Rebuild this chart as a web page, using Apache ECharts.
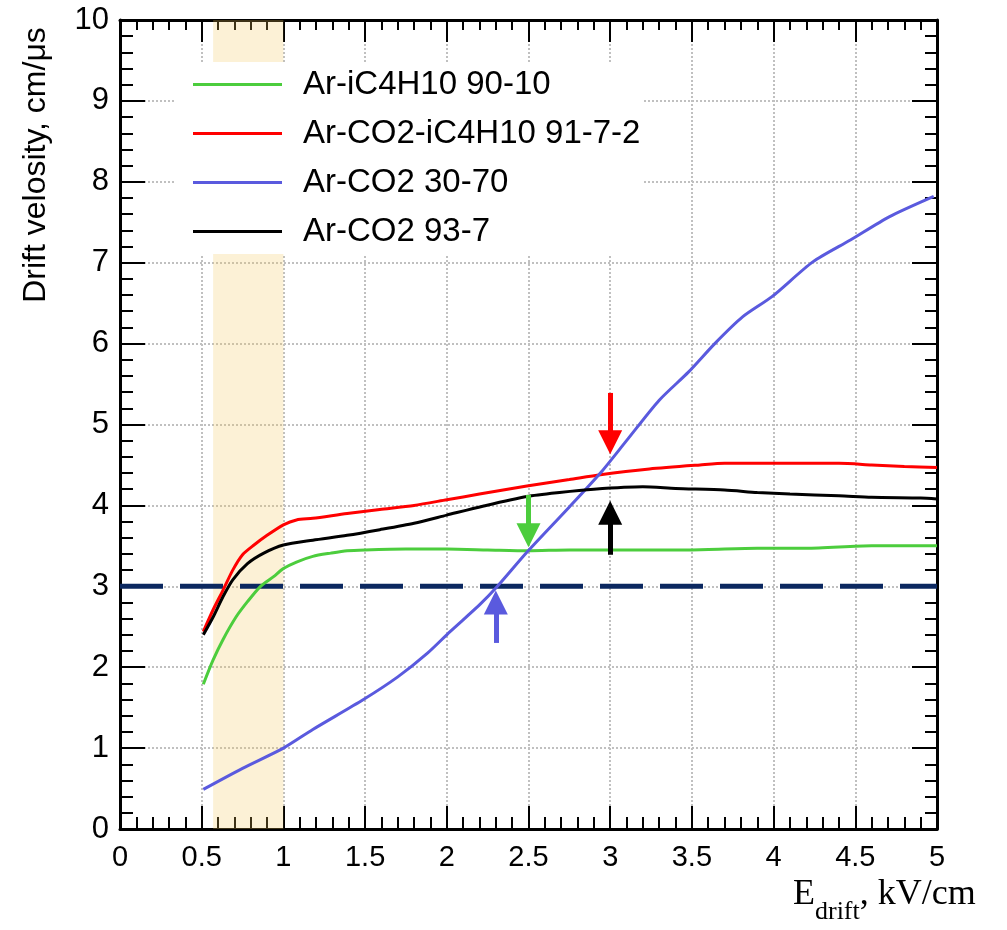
<!DOCTYPE html>
<html>
<head>
<meta charset="utf-8">
<script src="https://cdn.jsdelivr.net/npm/echarts@6/dist/echarts.min.js"></script>
<style>
  html, body { margin: 0; padding: 0; background: #fff; }
  #chart { width: 1007px; height: 930px; }
</style>
</head>
<body>
<div id="chart"></div>
<script>
// 数据：各曲线的 x / y 读数
const isoX = [0.51, 0.57, 0.63, 0.71, 0.78, 0.86, 0.94, 1.0, 1.08, 1.18, 1.29, 1.39, 1.5, 1.75, 2.0, 2.25, 2.5, 2.75, 3.0, 3.25, 3.5, 3.9, 4.2, 4.6, 5.0];
const isoY = [1.79, 2.09, 2.34, 2.62, 2.81, 3.0, 3.12, 3.22, 3.30, 3.37, 3.41, 3.44, 3.45, 3.46, 3.46, 3.45, 3.44, 3.45, 3.45, 3.45, 3.45, 3.47, 3.47, 3.50, 3.50];

const mixX = [0.51, 0.57, 0.63, 0.69, 0.75, 0.82, 0.9, 1.0, 1.08, 1.18, 1.39, 1.59, 1.8, 2.0, 2.2, 2.49, 2.75, 2.94, 3.24, 3.55, 3.7, 4.0, 4.4, 4.6, 4.8, 5.0];
const mixY = [2.44, 2.71, 2.95, 3.20, 3.39, 3.51, 3.63, 3.76, 3.82, 3.84, 3.90, 3.95, 4.0, 4.07, 4.14, 4.24, 4.32, 4.38, 4.45, 4.50, 4.52, 4.52, 4.52, 4.50, 4.48, 4.47];

const co2hX = [0.51, 0.75, 1.0, 1.18, 1.49, 1.7, 1.88, 2.02, 2.2, 2.31, 2.49, 2.75, 2.94, 3.1, 3.3, 3.48, 3.64, 3.81, 3.99, 4.24, 4.47, 4.71, 4.98];
const co2hY = [0.49, 0.75, 1.0, 1.23, 1.6, 1.88, 2.17, 2.44, 2.77, 3.0, 3.42, 3.98, 4.40, 4.80, 5.30, 5.65, 6.0, 6.33, 6.58, 7.01, 7.28, 7.57, 7.82];

const co2lX = [0.51, 0.57, 0.63, 0.69, 0.78, 0.88, 1.0, 1.18, 1.39, 1.59, 1.8, 2.0, 2.22, 2.49, 2.69, 2.9, 3.2, 3.4, 3.7, 3.9, 4.1, 4.4, 4.6, 4.9, 5.0];
const co2lY = [2.40, 2.62, 2.87, 3.08, 3.28, 3.41, 3.51, 3.57, 3.63, 3.70, 3.78, 3.88, 3.99, 4.11, 4.16, 4.20, 4.23, 4.21, 4.19, 4.16, 4.14, 4.12, 4.10, 4.09, 4.08];

const names = ["Ar-iC4H10 90-10", "Ar-CO2-iC4H10 91-7-2", "Ar-CO2 30-70", "Ar-CO2 93-7"];
const colors = ["#4ccd3d", "#ff0000", "#5a5ade", "#000000"];

// 阈值虚线、高亮区间
const thresholdY = 3;
const bandX = [0.57, 1.0];

// 箭头：x、尾部 y、头部中心 y
const arrowX = [3.0, 2.5, 3.0, 2.3];
const arrowFrom = [5.39, 4.13, 3.39, 2.30];
const arrowTo = [4.78, 3.63, 3.91, 2.80];
const arrowColors = ["#ff0000", "#4ccd3d", "#000000", "#5a5ade"];

const zip = (xs, ys) => xs.map((x, i) => [x, ys[i]]);
const font = "Liberation Sans";

const myChart = echarts.init(document.querySelector("#chart"));

const tickX = (pos, len, minorLen) => ({
  type: "value",
  position: pos,
  min: 0,
  max: 5,
  interval: 0.5,
  axisLine: { show: true, onZero: false, lineStyle: { color: "#000", width: 3 } },
  axisTick: { show: true, inside: true, length: len, lineStyle: { color: "#000", width: 2 } },
  minorTick: { show: true, splitNumber: 5, length: minorLen, lineStyle: { color: "#000", width: 2 } },
  splitLine: { show: false },
  axisLabel: { show: false },
});

const tickY = (pos, len, minorLen) => ({
  type: "value",
  position: pos,
  min: 0,
  max: 10,
  interval: 1,
  axisLine: { show: true, onZero: false, lineStyle: { color: "#000", width: 3 } },
  axisTick: { show: true, inside: true, length: len, lineStyle: { color: "#000", width: 2 } },
  minorTick: { show: true, splitNumber: 5, length: minorLen, lineStyle: { color: "#000", width: 2 } },
  splitLine: { show: false },
  axisLabel: { show: false },
});

const bottomX = tickX("bottom", 23, 12);
bottomX.axisLabel = { show: true, margin: 14, color: "#000", fontFamily: font, fontSize: 29 };
bottomX.splitLine = { show: true, lineStyle: { color: "#c0c0c0", width: 2, type: [2, 2] } };

const leftY = tickY("left", 25, 13);
leftY.axisLabel = { show: true, margin: 11, color: "#000", fontFamily: font, fontSize: 31 };
leftY.splitLine = { show: true, lineStyle: { color: "#c0c0c0", width: 2, type: [2, 2] } };

const curves = [zip(isoX, isoY), zip(mixX, mixY), zip(co2hX, co2hY), zip(co2lX, co2lY)];

const option = {
  animation: false,
  backgroundColor: "#fff",
  textStyle: { fontFamily: font },
  grid: { left: 120, top: 20, right: 70, bottom: 101 },
  xAxis: [bottomX, tickX("top", 22, 10)],
  yAxis: [leftY, tickY("right", 25, 12)],
  legend: {
    data: names,
    orient: "vertical",
    left: 175,
    top: 62,
    icon: "rect",
    itemWidth: 89,
    itemHeight: 3,
    itemGap: 16,
    padding: [6, 2, 6, 18],
    backgroundColor: "#fff",
    textStyle: { fontFamily: font, fontSize: 33, lineHeight: 33, color: "#000", padding: [0, 0, 0, 16] },
  },
  series: [
    // 阈值虚线
    {
      type: "line",
      data: [[0, thresholdY], [5, thresholdY]],
      showSymbol: false,
      lineStyle: { color: "#0b2860", width: 5, type: [43, 17] },
      z: 1,
      silent: true,
    },
    ...curves.map((d, i) => ({
      name: names[i],
      type: "line",
      data: d,
      showSymbol: false,
      smooth: 0.25,
      color: colors[i],
      lineStyle: { color: colors[i], width: 3 },
      z: 2,
    })),
    // 箭头
    {
      type: "lines",
      coordinateSystem: "cartesian2d",
      symbol: ["none", "triangle"],
      symbolSize: 24,
      z: 4,
      data: arrowX.map((x, i) => ({
        coords: [[x, arrowFrom[i]], [x, arrowTo[i]]],
        lineStyle: { color: arrowColors[i], width: 5, opacity: 1 },
      })),
    },
    // 高亮区间
    {
      type: "line",
      data: [],
      z: 5,
      silent: true,
      markArea: {
        silent: true,
        itemStyle: { color: "rgba(245, 200, 90, 0.25)" },
        data: [[{ xAxis: bandX[0], yAxis: 0 }, { xAxis: bandX[1], yAxis: 10 }]],
      },
    },
  ],
  graphic: [
    {
      type: "text",
      x: 36,
      y: 165,
      rotation: Math.PI / 2,
      style: {
        text: "Drift velosity, cm/μs",
        font: "32px 'Liberation Sans'",
        fill: "#000",
        align: "center",
        verticalAlign: "middle",
      },
    },
    {
      type: "text",
      left: 793,
      top: 877,
      style: {
        text: "{e|E}{s|drift}{n|, kV/cm}",
        fill: "#000",
        rich: {
          e: { fontFamily: "Liberation Serif", fontSize: 36, lineHeight: 36, verticalAlign: "top" },
          s: { fontFamily: "Liberation Serif", fontSize: 26, lineHeight: 26, verticalAlign: "top", padding: [22, 0, 0, 0] },
          n: { fontFamily: "Liberation Serif", fontSize: 36, lineHeight: 36, verticalAlign: "top" },
        },
      },
    },
  ],
};

myChart.setOption(option);
</script>
</body>
</html>
